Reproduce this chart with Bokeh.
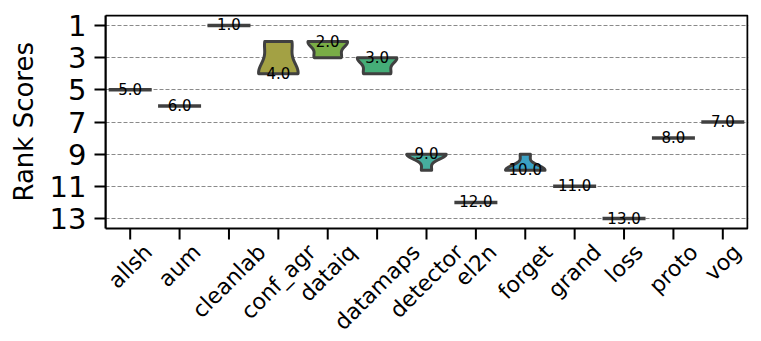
import numpy as np
from bokeh.plotting import figure
from bokeh.models import Range1d, FixedTicker
from bokeh.embed import file_html
from bokeh.resources import INLINE
from bokeh.core.properties import value

# ---------------- data ----------------
methods = ["allsh", "aum", "cleanlab", "conf_agr", "dataiq", "datamaps",
           "detector", "el2n", "forget", "grand", "loss", "proto", "vog"]

rank_allsh = [5, 5, 5, 5, 5]
rank_aum = [6, 6, 6, 6, 6]
rank_cleanlab = [1, 1, 1, 1, 1]
rank_conf_agr = [2, 2, 4, 4, 4]
rank_dataiq = [2, 2, 2, 3, 3]
rank_datamaps = [3, 3, 3, 4, 4]
rank_detector = [9, 9, 9, 9, 10]
rank_el2n = [12, 12, 12, 12, 12]
rank_forget = [9, 10, 10, 10, 10]
rank_grand = [11, 11, 11, 11, 11]
rank_loss = [13, 13, 13, 13, 13]
rank_proto = [8, 8, 8, 8, 8]
rank_vog = [7, 7, 7, 7, 7]

colors = ["#d8868f", "#c9925a", "#b49a4a", "#a3a144", "#79ad46", "#45ad78",
          "#46ae9e", "#48a9b4", "#3ba1c4", "#7c9ad8", "#a58fd8", "#c988cc", "#d884ad"]

y_ticks = [1, 3, 5, 7, 9, 11, 13]
y_label = "Rank Scores"

all_ranks = [rank_allsh, rank_aum, rank_cleanlab, rank_conf_agr, rank_dataiq,
             rank_datamaps, rank_detector, rank_el2n, rank_forget, rank_grand,
             rank_loss, rank_proto, rank_vog]

FONT = "DejaVu Sans"
EDGE = "#404040"
XLAB_PX = 22
YLAB_PX = 26

# DejaVu Sans advance widths (em) for label centring
CHAR_W = {"a": 0.613, "b": 0.635, "c": 0.550, "d": 0.635, "e": 0.615, "f": 0.352,
          "g": 0.635, "h": 0.634, "i": 0.278, "l": 0.278, "m": 0.974, "n": 0.634,
          "o": 0.612, "p": 0.635, "q": 0.635, "r": 0.411, "s": 0.521, "t": 0.392,
          "u": 0.634, "v": 0.592, "_": 0.500, "2": 0.636, " ": 0.318}

# ---- layout (page pixels) ----
W_FIG, H_FIG = 752, 336
BOX_L, BOX_R, BOX_T, BOX_B = 105, 747, 15, 228      # axes box
X_LO, X_HI = -0.5, 12.5                             # category limits
Y_LO, Y_HI = 0.38, 13.62                            # rank limits (inverted)
ppx = (BOX_R - BOX_L) / (X_HI - X_LO)
ppy = (BOX_B - BOX_T) / (Y_HI - Y_LO)
FR_R, FR_T = BOX_R + 1, BOX_T - 1                   # frame slightly larger than box

p = figure(width=W_FIG, height=H_FIG, output_backend="svg", toolbar_location=None,
           x_range=Range1d(X_LO, X_HI + (FR_R - BOX_R) / ppx),
           y_range=Range1d(Y_HI + (H_FIG - BOX_B) / ppy, Y_LO - (BOX_T - FR_T) / ppy),
           x_axis_location=None,
           min_border_left=BOX_L, min_border_top=FR_T, min_border_right=W_FIG - FR_R,
           min_border_bottom=0)
p.outline_line_color = None

# axes box
p.quad(left=[X_LO], right=[X_HI], top=[Y_LO], bottom=[Y_HI], fill_color=None,
       line_color="black", line_width=2)

# violins
half = 0.4
pxs, pys, pcol = [], [], []
sx0, sx1, sy = [], [], []
for i, obs in enumerate(all_ranks):
    o = np.asarray(obs, dtype=float)
    lo, hi = o.min(), o.max()
    if lo == hi:
        sx0.append(i - half)
        sx1.append(i + half)
        sy.append(lo)
        continue
    h = o.std(ddof=1) * len(o) ** (-0.2)
    grid = np.linspace(lo, hi, 100)
    dens = np.exp(-0.5 * ((grid[:, None] - o[None, :]) / h) ** 2).sum(axis=1)
    w = dens / dens.max() * half
    pxs.append(list(np.concatenate([i - w, (i + w)[::-1]])))
    pys.append(list(np.concatenate([grid, grid[::-1]])))
    pcol.append(colors[i])

p.patches(xs=pxs, ys=pys, fill_color=pcol, line_color=EDGE, line_width=3,
          line_join="round")
p.segment(x0=sx0, x1=sx1, y0=sy, y1=sy, line_color=EDGE, line_width=3.5,
          line_cap="square")

# median labels
xs = list(range(len(methods)))
meds = [float(np.median(r)) for r in all_ranks]
p.text(x=xs, y=meds, text=[f"{m:.1f}" for m in meds],
       text_font=value(FONT), text_font_size="15px", text_align="center",
       text_baseline="middle", y_offset=-1, text_color="black")

# category ticks below the box
p.segment(x0=xs, x1=xs, y0=[Y_HI] * len(xs), y1=[Y_HI + 11 / ppy] * len(xs),
          line_color="black", line_width=2)

# rotated category labels, bounding box centred under each tick
lab_y = []
for m in methods:
    W = sum(CHAR_W.get(c, 0.6) for c in m) * XLAB_PX
    d = (W + 1.0 * XLAB_PX) / (2 * np.sqrt(2))
    lab_y.append(Y_HI + (12 + d) / ppy)
p.text(x=xs, y=lab_y, text=methods, angle=np.pi / 4,
       text_font=value(FONT), text_font_size=f"{XLAB_PX}px",
       text_align="center", text_baseline="middle", text_color="black")

# y axis label: centred on the box rather than on the taller frame,
# using leading no-break spaces to shift it along the axis
frame_mid = (FR_T + H_FIG) / 2
box_mid = (BOX_T + BOX_B) / 2
n_pad = int(round(2 * (frame_mid - box_mid) / (CHAR_W[" "] * YLAB_PX)))
padded_label = "\u00a0" * n_pad + y_label

p.yaxis.ticker = FixedTicker(ticks=y_ticks)
p.yaxis.bounds = (Y_LO, Y_HI)
p.yaxis.major_label_text_font = FONT
p.yaxis.major_label_text_font_size = "29px"
p.yaxis.major_label_text_color = "black"
p.yaxis.major_label_standoff = 8
p.yaxis.minor_tick_line_color = None
p.yaxis.major_tick_out = 11
p.yaxis.major_tick_in = 0
p.yaxis.major_tick_line_width = 2
p.yaxis.axis_line_width = 2
p.yaxis.axis_line_color = "black"
p.yaxis.axis_label = padded_label
p.yaxis.axis_label_text_font = FONT
p.yaxis.axis_label_text_font_size = f"{YLAB_PX}px"
p.yaxis.axis_label_text_font_style = "normal"
p.yaxis.axis_label_text_color = "black"
p.yaxis.axis_label_standoff = 8

p.xgrid.grid_line_color = None
p.ygrid.grid_line_color = "#8a8a8a"
p.ygrid.grid_line_dash = "4 2"
p.ygrid.grid_line_width = 1

open("out.html", "w").write(file_html(p, INLINE))
